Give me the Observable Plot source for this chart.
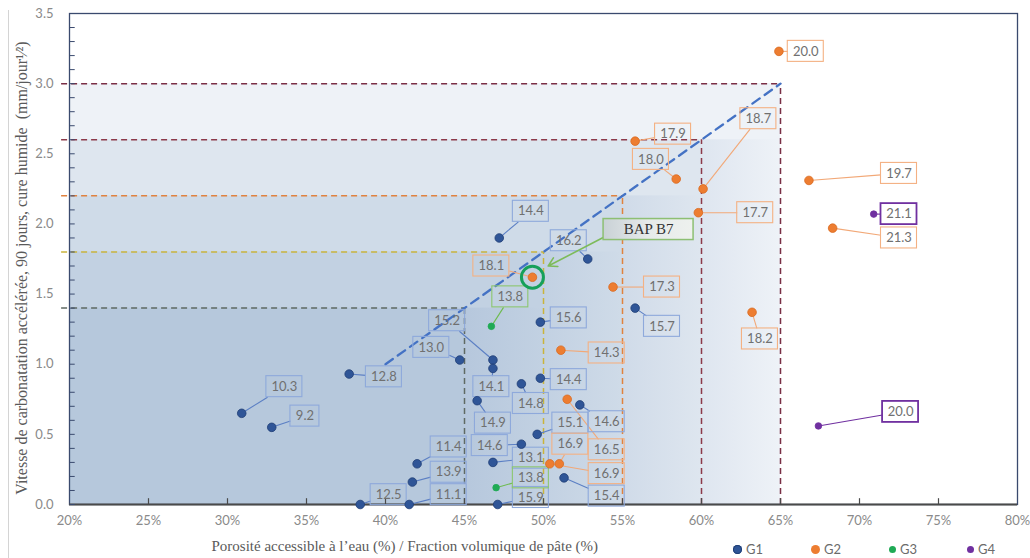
<!DOCTYPE html>
<html><head><meta charset="utf-8">
<script src="https://cdn.jsdelivr.net/npm/d3@7"></script>
<script src="https://cdn.jsdelivr.net/npm/@observablehq/plot@0.6"></script>
<style>
body{margin:0;background:#fff;}
#wrap{position:relative;width:1030px;height:558px;overflow:hidden;background:#fff;}
#edge{position:absolute;left:8px;top:10px;width:1px;height:548px;background:#d4d4d4;}
#legend{position:absolute;top:541px;left:733px;font:13px Lato,"Open Sans",sans-serif;color:#6b6b6b;display:flex;gap:0;}
#legend .it{display:flex;align-items:center;width:78px;}
#legend .dot{display:inline-block;border-radius:50%;margin-right:4px;}
</style></head>
<body><div id="wrap"><div id="edge"></div><div id="chart"></div><div id="legend"></div></div>
<script>
// ---------- data ----------
const xTicks = [20, 25, 30, 35, 40, 45, 50, 55, 60, 65, 70, 75, 80];
const yTicks = [0, 0.5, 1.0, 1.5, 2.0, 2.5, 3.0, 3.5];
const yMinor = [0,0.1,0.2,0.3,0.4,0.5,0.6,0.7,0.8,0.9,1.0,1.1,1.2,1.3,1.4,1.5,1.6,1.7,1.8,1.9,2.0,2.1,2.2,2.3,2.4,2.5,2.6,2.7,2.8,2.9,3.0,3.1,3.2,3.3,3.4,3.5];

// threshold zones (porosity %, carbonation rate)
const thrX = [65, 60, 55, 50, 45];
const thrY = [3.0, 2.6, 2.2, 1.8, 1.4];
const thrColor = ["#7A2E45", "#8C3A4A", "#E0823F", "#C9B43C", "#5F6A63"];

// trend line
const trendX = [40, 65];
const trendY = [1.0, 3.0];

// G1
const g1X = [30.9,32.8,37.7,44.7,46.8,46.8,48.6,45.8,48.6,46.8,47.1,38.4,42.0,41.7,41.5,47.2,52.8,49.8,55.8,49.8,49.6,52.3,51.3];
const g1Y = [0.65,0.55,0.93,1.03,1.03,0.97,0.86,0.74,0.43,0.30,0.00,0.00,0.29,0.16,0.00,1.90,1.75,1.30,1.40,0.90,0.50,0.71,0.19];
const g1Lbl = [10.3,9.2,12.8,13.0,15.2,14.1,14.8,14.9,14.6,13.1,15.9,12.5,11.4,13.9,11.1,14.4,16.2,15.6,15.7,14.4,15.1,14.6,15.4];
const g1LabX = [33.6,34.9,39.9,42.9,43.9,46.7,49.2,46.8,46.6,49.2,49.2,40.2,44.0,44.0,44.0,49.2,51.6,51.6,57.5,51.6,51.7,54.0,54.0];
const g1LabY = [0.84,0.63,0.91,1.12,1.31,0.84,0.72,0.58,0.42,0.33,0.05,0.07,0.41,0.23,0.07,2.09,1.88,1.33,1.27,0.89,0.58,0.59,0.06];

// G2
const g2X = [64.9,55.8,58.4,60.1,59.8,66.8,68.3,49.3,54.4,51.1,51.5,51.0,50.4,63.2];
const g2Y = [3.23,2.59,2.32,2.25,2.08,2.31,1.97,1.62,1.55,1.10,0.75,0.29,0.29,1.37];
const g2Lbl = [20.0,17.9,18.0,18.7,17.7,19.7,21.3,18.1,17.3,14.3,16.5,16.9,16.9,18.2];
const g2LabX = [66.6,58.2,56.8,63.6,63.4,72.5,72.5,46.7,57.5,54.0,54.0,51.7,54.0,63.7];
const g2LabY = [3.23,2.64,2.46,2.75,2.08,2.36,1.90,1.70,1.55,1.08,0.39,0.43,0.22,1.18];

// G3
const g3X = [46.7, 47.0];
const g3Y = [1.27, 0.12];
const g3Lbl = [13.8, 13.8];
const g3LabX = [47.9, 49.2];
const g3LabY = [1.48, 0.19];

// G4
const g4X = [70.9, 67.4];
const g4Y = [2.07, 0.56];
const g4Lbl = [21.1, 20.0];
const g4LabX = [72.5, 72.6];
const g4LabY = [2.07, 0.66];

// highlighted mix
const bapText = "BAP B7";
const bapPoint = [49.3, 1.62];
const bapLabelPos = [56.65, 1.96];
const bapArrowFrom = [53.9, 1.91];
const bapArrowTo = [50.3, 1.70];

const groupNames = ["G1", "G2", "G3", "G4"];
const xTitle = "Porosité accessible à l’eau (%) / Fraction volumique de pâte (%)";
const yTitle = "Vitesse de carbonatation accélérée, 90 jours, cure humide  (mm/jour¹⁄²)";

// ---------- styles ----------
const dotFill = {G1: "#2F5597", G2: "#ED7D31", G3: "#1FAA55", G4: "#7030A0"};
const dotStroke = {G1: "#1F3E75", G2: "#D96A20", G3: "#1FAA55", G4: "#7030A0"};
const leadColor = {G1: "#5B7FC4", G2: "#F2A877", G3: "#6DBB4E", G4: "#7030A0"};
const boxColor = {G1: "#8EA9DB", G2: "#F4B183", G3: "#8CC66E", G4: "#7030A0"};
const boxWidth = {G1: 1.1, G2: 1.1, G3: 1.1, G4: 1.8};

const W = 1030, H = 558;
const margins = {marginTop: 13, marginRight: 13, marginBottom: 54, marginLeft: 69};
const xScale = {domain: [20, 80]};
const yScale = {domain: [0, 3.5]};

// dry run to get the plot's own scales
const base = Plot.plot({width: W, height: H, ...margins, x: xScale, y: yScale, marks: [Plot.frame()]});
const sx = base.scale("x"), sy = base.scale("y");

const groups = [
  {name: "G1", X: g1X, Y: g1Y, L: g1Lbl, LX: g1LabX, LY: g1LabY},
  {name: "G2", X: g2X, Y: g2Y, L: g2Lbl, LX: g2LabX, LY: g2LabY},
  {name: "G3", X: g3X, Y: g3Y, L: g3Lbl, LX: g3LabX, LY: g3LabY},
  {name: "G4", X: g4X, Y: g4Y, L: g4Lbl, LX: g4LabX, LY: g4LabY}
];

const rows = [];
for (const g of groups) {
  g.X.forEach((x, i) => {
    const label = g.L[i].toFixed(1);
    const hw = (label.length > 3 ? 36 : 29) / 2, hh = 10.5;
    const cx = sx.apply(g.LX[i]), cy = sy.apply(g.LY[i]);
    const px = sx.apply(x), py = sy.apply(g.Y[i]);
    const dx = px - cx, dy = py - cy;
    const t = Math.min(1, Math.min(dx ? hw / Math.abs(dx) : Infinity, dy ? hh / Math.abs(dy) : Infinity));
    rows.push({
      group: g.name, x, y: g.Y[i], label, lx: g.LX[i], ly: g.LY[i],
      bx1: sx.invert(cx - hw), bx2: sx.invert(cx + hw),
      by1: sy.invert(cy + hh), by2: sy.invert(cy - hh),
      ex: sx.invert(cx + dx * t), ey: sy.invert(cy + dy * t)
    });
  });
}

const idx = thrX.map((_, i) => i);
const innerIdx = idx.slice(1);
const trend = trendX.map((x, i) => ({x, y: trendY[i]}));

// BAP box in data units
const bcx = sx.apply(bapLabelPos[0]), bcy = sy.apply(bapLabelPos[1]);
const bapBox = [{x1: sx.invert(bcx - 45), x2: sx.invert(bcx + 45), y1: sy.invert(bcy + 10.5), y2: sy.invert(bcy - 10.5)}];

const FONT = "Lato, 'Open Sans', sans-serif";
const SERIF = "'Liberation Serif', 'DejaVu Serif', serif";

const plot = Plot.plot({
  width: W, height: H, ...margins,
  x: xScale, y: yScale,
  color: {type: "identity"},
  style: {fontFamily: FONT, fontSize: "13px", background: "#fff"},
  marks: [
    // nested zones
    Plot.rect(idx, {x1: () => 20, x2: d => thrX[d], y1: () => 0, y2: d => thrY[d], fill: "#3D67A8", fillOpacity: 0.085}),
    // soft shading right of inner zones
    Plot.rect(innerIdx, {x1: d => thrX[d], x2: d => thrX[d - 1], y1: () => 0, y2: d => thrY[d], fill: "url(#shadeGrad)"}),
    // dashed thresholds
    Plot.ruleY(idx, {y: d => thrY[d], x1: () => 19.5, x2: d => thrX[d], stroke: d => thrColor[d], strokeWidth: 1.5, strokeDasharray: "6,4"}),
    Plot.ruleX(idx, {x: d => thrX[d], y1: () => 0, y2: d => thrY[d], stroke: d => thrColor[d], strokeWidth: 1.5, strokeDasharray: "6,4"}),
    // trend
    Plot.line(trend, {x: "x", y: "y", stroke: "#4472C4", strokeWidth: 2.3, strokeDasharray: "9,6"}),
    // frame & ticks
    Plot.frame({stroke: "#3A4A6E", strokeWidth: 1.3}),
    Plot.ruleY([0], {stroke: "#4a4a4a", strokeWidth: 2}),
    Plot.link(yMinor, {x1: () => 20, x2: () => 20.33, y1: d => d, y2: d => d, stroke: "#3A4A6E", strokeWidth: 1}),
    Plot.link(xTicks.slice(1, -1), {x1: d => d, x2: d => d, y1: () => 0, y2: () => 0.045, stroke: "#4a4a4a", strokeWidth: 1.2}),
    Plot.axisY({ticks: yTicks, tickFormat: d => d.toFixed(1), tickSize: 0, tickPadding: 16, label: null, color: "#8a8a8a"}),
    Plot.axisX({ticks: xTicks, tickFormat: d => d + "%", tickSize: 0, tickPadding: 11, label: null, color: "#8a8a8a"}),
    // leaders, label boxes, labels
    Plot.link(rows, {x1: "x", y1: "y", x2: "ex", y2: "ey", stroke: d => leadColor[d.group], strokeWidth: 1.1}),
    Plot.rect(rows, {x1: "bx1", x2: "bx2", y1: "by1", y2: "by2", fill: "none", stroke: d => boxColor[d.group], strokeWidth: d => boxWidth[d.group]}),
    Plot.text(rows, {x: "lx", y: "ly", text: "label", fill: "#707070", fontSize: 13}),
    // points
    Plot.dot(rows.filter(d => d.group === "G1" || d.group === "G2"), {x: "x", y: "y", r: 4.3, fill: d => dotFill[d.group], stroke: d => dotStroke[d.group], strokeWidth: 0.8}),
    Plot.dot(rows.filter(d => d.group === "G3" || d.group === "G4"), {x: "x", y: "y", r: 3.3, fill: d => dotFill[d.group], stroke: d => dotStroke[d.group], strokeWidth: 0.8}),
    // BAP B7 annotation
    Plot.dot([bapPoint], {x: d => d[0], y: d => d[1], r: 11, fill: "none", stroke: "#16A05A", strokeWidth: 3}),
    Plot.arrow([0], {x1: () => bapArrowFrom[0], y1: () => bapArrowFrom[1], x2: () => bapArrowTo[0], y2: () => bapArrowTo[1], stroke: "#7DBB5A", strokeWidth: 1.6, headLength: 9}),
    Plot.rect(bapBox, {x1: "x1", x2: "x2", y1: "y1", y2: "y2", fill: "url(#bapGrad)", stroke: "#8DBF73", strokeWidth: 1.5}),
    Plot.text([bapText], {x: () => bapLabelPos[0], y: () => bapLabelPos[1], text: d => d, fill: "#333", fontSize: 15, fontFamily: SERIF}),
    // axis titles
    Plot.text([yTitle], {frameAnchor: "left", textAnchor: "middle", dx: -48, dy: 9, rotate: -90, text: d => d, fill: "#5a5a5a", fontSize: 16, fontFamily: SERIF}),
    Plot.text([xTitle], {frameAnchor: "bottom-left", textAnchor: "start", dx: 142, dy: 46, text: d => d, fill: "#5a5a5a", fontSize: 15, fontFamily: SERIF})
  ]
});

// gradient definitions used by the rect fills
const ns = "http://www.w3.org/2000/svg";
const defs = document.createElementNS(ns, "defs");
defs.innerHTML = `
<linearGradient id="shadeGrad" x1="0" x2="1" y1="0" y2="0">
  <stop offset="0" stop-color="#3D67A8" stop-opacity="0.09"/>
  <stop offset="1" stop-color="#3D67A8" stop-opacity="0"/>
</linearGradient>
<linearGradient id="bapGrad" x1="0" x2="1" y1="0" y2="0">
  <stop offset="0" stop-color="#C9D1D6"/>
  <stop offset="0.5" stop-color="#E6EAEA"/>
  <stop offset="1" stop-color="#EEF1EE"/>
</linearGradient>`;
plot.insertBefore(defs, plot.firstChild);
document.getElementById("chart").appendChild(plot);

// legend
const legend = document.getElementById("legend");
groupNames.forEach(n => {
  const it = document.createElement("div"); it.className = "it";
  const s = (n === "G1" || n === "G2") ? 9 : 7;
  it.innerHTML = `<span class="dot" style="width:${s}px;height:${s}px;background:${dotFill[n]};${n === "G1" ? "box-shadow:0 0 0 1px #1F3E75 inset;" : ""}"></span>${n}`;
  legend.appendChild(it);
});
</script>
</body></html>
